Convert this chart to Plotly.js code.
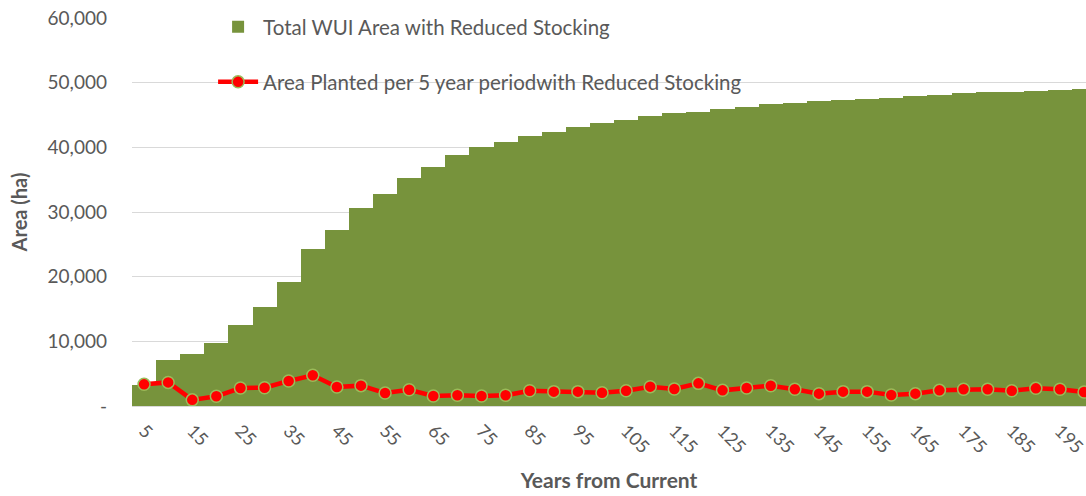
<!DOCTYPE html>
<html>
<head>
<meta charset="utf-8">
<script src="https://cdn.plot.ly/plotly-3.0.1.min.js"></script>
<style>html,body{margin:0;padding:0;background:#fff;overflow:hidden}</style>
</head>
<body>
<div id="chart" style="width:1086px;height:496px"></div>
<script>
const years = [5,10,15,20,25,30,35,40,45,50,55,60,65,70,75,80,85,90,95,100,
               105,110,115,120,125,130,135,140,145,150,155,160,165,170,175,180,185,190,195,200];
const totalArea = [3300,7150,8050,9700,12500,15350,19200,24300,27200,30600,32800,35250,36900,38800,40000,40900,41800,42400,43100,43700,
                   44200,44800,45350,45500,45900,46300,46650,46900,47100,47250,47450,47700,47900,48150,48350,48500,48550,48700,48850,49000];
const plantedArea = [3350,3650,950,1500,2780,2830,3870,4750,2950,3150,2000,2500,1550,1650,1550,1650,2370,2220,2220,2060,
                     2370,2990,2630,3500,2420,2780,3140,2580,1910,2220,2220,1700,1910,2420,2580,2580,2370,2730,2580,2160];
const xTicks = [5,15,25,35,45,55,65,75,85,95,105,115,125,135,145,155,165,175,185,195];
const yTicks = [0,10000,20000,30000,40000,50000,60000];
const yTickText = ['-','10,000','20,000','30,000','40,000','50,000','60,000'];
const barName = 'Total WUI Area with Reduced Stocking';
const lineName = 'Area Planted per 5 year periodwith Reduced Stocking';

const font = 'Lato, "Open Sans", sans-serif';
const grey = '#595959';

const traces = [
  {type:'bar', x:years, y:totalArea, name:barName, width:5,
   marker:{color:'#77933c', line:{width:0}}, legend:'legend'},
  {type:'scatter', mode:'lines+markers', x:years, y:plantedArea, name:lineName,
   line:{color:'#ff0000', width:4.5},
   marker:{color:'#ff0000', size:12, line:{color:'#9bbb59', width:1.5}}, legend:'legend2'}
];

const layout = {
  width:1086, height:496,
  margin:{l:132, r:0, t:18, b:90},
  paper_bgcolor:'#fff', plot_bgcolor:'#fff',
  bargap:0,
  font:{family:font, color:grey, size:16},
  xaxis:{range:[2.5,200.4], tickvals:xTicks, ticktext:xTicks.map(String), tickangle:45,
         showgrid:false, zeroline:false, showline:false, ticks:'', ticklabelstandoff:10,
         ticklabeloverflow:'allow',
         tickfont:{size:18, color:grey, family:font},
         title:{text:'<b>Years from Current</b>', font:{size:21, color:grey, family:font}, standoff:16}},
  yaxis:{range:[0,60000], tickvals:yTicks, ticktext:yTickText,
         showgrid:true, gridcolor:'#d9d9d9', gridwidth:1, zeroline:true, zerolinecolor:'#d9d9d9', zerolinewidth:1,
         ticks:'', ticklabelstandoff:24,
         tickfont:{size:19, color:grey, family:font},
         title:{text:'<b>Area (ha)</b>', font:{size:20, color:grey, family:font}, standoff:14}},
  legend:{x:0.085, xanchor:'left', y:0.977, yanchor:'middle', bgcolor:'rgba(0,0,0,0)',
          font:{size:20.5, color:grey, family:font}, itemwidth:40},
  legend2:{x:0.085, xanchor:'left', y:0.835, yanchor:'middle', bgcolor:'rgba(0,0,0,0)',
          font:{size:20.5, color:grey, family:font}, itemwidth:40},
  showlegend:true
};

Plotly.newPlot('chart', traces, layout, {displayModeBar:false, staticPlot:true});
</script>
</body>
</html>
